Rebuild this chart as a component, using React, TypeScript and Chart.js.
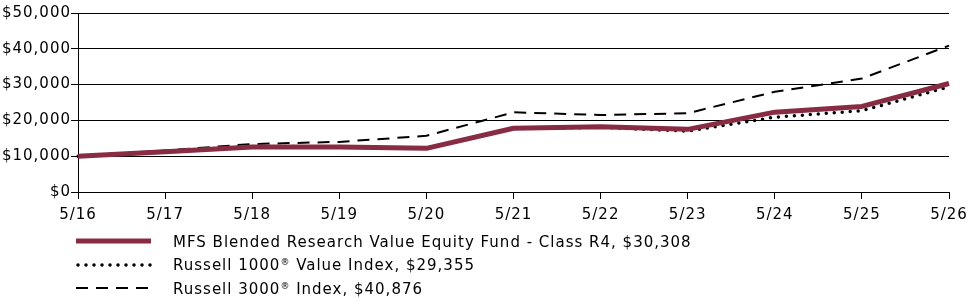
import React, { useEffect, useRef } from "react";
import { Chart, registerables } from "chart.js";

Chart.register(...registerables);

const categories = ["5/16", "5/17", "5/18", "5/19", "5/20", "5/21", "5/22", "5/23", "5/24", "5/25", "5/26"];
const fundValues = [10000, 11250, 12600, 12550, 12200, 17800, 18200, 17500, 22300, 23900, 30308];
const valueIndex = [10000, 11400, 12700, 12650, 12300, 17700, 18050, 17000, 20900, 22700, 29355];
const broadIndex = [10000, 11600, 13400, 14000, 15700, 22250, 21500, 22000, 28000, 31700, 40876];
const yTicks = [0, 10000, 20000, 30000, 40000, 50000];

const legendLabels: { main: string; sup?: string; rest?: string }[] = [
  { main: "MFS Blended Research Value Equity Fund - Class R4, $30,308" },
  { main: "Russell 1000", sup: "®", rest: " Value Index, $29,355" },
  { main: "Russell 3000", sup: "®", rest: " Index, $40,876" },
];

const FONT = "'DejaVu Sans', sans-serif";
const FS = 15;

const spacingPlugin = {
  id: "letterSpacing",
  beforeInit(chart: any) {
    chart.ctx.letterSpacing = "1px";
  },
  beforeUpdate(chart: any) {
    chart.ctx.letterSpacing = "1px";
  },
  beforeDraw(chart: any) {
    chart.ctx.letterSpacing = "1px";
  },
};

const legendPlugin = {
  id: "customLegend",
  afterDraw(chart: any) {
    const ctx = chart.ctx as CanvasRenderingContext2D;
    const rows = [247, 270, 294];
    const lineRows = [241, 265, 288];
    chart.data.datasets.forEach((ds: any, i: number) => {
      const ly = lineRows[i];
      ctx.save();
      ctx.strokeStyle = ds.borderColor;
      ctx.lineWidth = ds.borderWidth;
      ctx.lineCap = ds.borderCapStyle || "butt";
      ctx.setLineDash(ds.borderDash || []);
      ctx.beginPath();
      ctx.moveTo(i === 1 ? 78 : 76, ly);
      ctx.lineTo(151, ly);
      ctx.stroke();
      ctx.restore();

      const y = rows[i];
      const lab = legendLabels[i];
      ctx.save();
      (ctx as any).letterSpacing = "1px";
      ctx.fillStyle = "#000";
      ctx.textBaseline = "alphabetic";
      ctx.font = `${FS}px ${FONT}`;
      let x = 173;
      ctx.fillText(lab.main, x, y);
      x += ctx.measureText(lab.main).width;
      if (lab.sup) {
        ctx.font = `9px ${FONT}`;
        ctx.fillText(lab.sup, x, y - 5);
        x += ctx.measureText(lab.sup).width;
        ctx.font = `${FS}px ${FONT}`;
        ctx.fillText(lab.rest || "", x, y);
      }
      ctx.restore();
    });
  },
};

export default function App() {
  const ref = useRef<HTMLCanvasElement | null>(null);
  useEffect(() => {
    document.body.style.margin = "0";
    const canvas = ref.current!;
    const chart = new Chart(canvas, {
      type: "line",
      data: {
        labels: categories,
        datasets: [
          {
            label: "Fund",
            data: fundValues,
            borderColor: "#872c43",
            borderWidth: 5,
            pointRadius: 0,
            tension: 0,
            borderJoinStyle: "round",
            order: 0,
          },
          {
            label: "Russell 1000 Value",
            data: valueIndex,
            borderColor: "#000000",
            borderWidth: 3.5,
            borderDash: [0, 8],
            borderCapStyle: "round",
            pointRadius: 0,
            tension: 0,
            order: 1,
          },
          {
            label: "Russell 3000",
            data: broadIndex,
            borderColor: "#000000",
            borderWidth: 2,
            borderDash: [12, 8],
            pointRadius: 0,
            tension: 0,
            order: 2,
          },
        ],
      },
      options: {
        animation: false,
        responsive: false,
        devicePixelRatio: 1,
        layout: { padding: { top: 13, right: 26, bottom: 82, left: 0 } },
        plugins: { legend: { display: false }, tooltip: { enabled: false } },
        scales: {
          x: {
            type: "category",
            offset: false,
            grid: { display: true, drawOnChartArea: false, drawTicks: true, tickLength: 7, color: "#000", lineWidth: 1 },
            border: { display: true, color: "#000", width: 1 },
            ticks: { color: "#000", font: { family: FONT, size: FS }, padding: 7, maxRotation: 0, autoSkip: false },
            afterFit(scale: any) {
              scale.height = 30;
            },
          },
          y: {
            min: 0,
            max: 50000,
            afterBuildTicks(scale: any) {
              scale.ticks = yTicks.map((v) => ({ value: v }));
            },
            grid: { color: "#000", lineWidth: 1, drawTicks: true, tickLength: 7 },
            border: { display: true, color: "#000", width: 1 },
            ticks: {
              color: "#000",
              font: { family: FONT, size: FS },
              padding: 0,
              callback: (v: any) => "$" + Number(v).toLocaleString("en-US"),
            },
            afterFit(scale: any) {
              scale.width = 78;
            },
          },
        },
      },
      plugins: [spacingPlugin, legendPlugin],
    });
    return () => chart.destroy();
  }, []);
  return (
    <div style={{ width: 975, height: 304, background: "#fff" }}>
      <canvas ref={ref} width={975} height={304} style={{ display: "block", width: 975, height: 304 }} />
    </div>
  );
}
